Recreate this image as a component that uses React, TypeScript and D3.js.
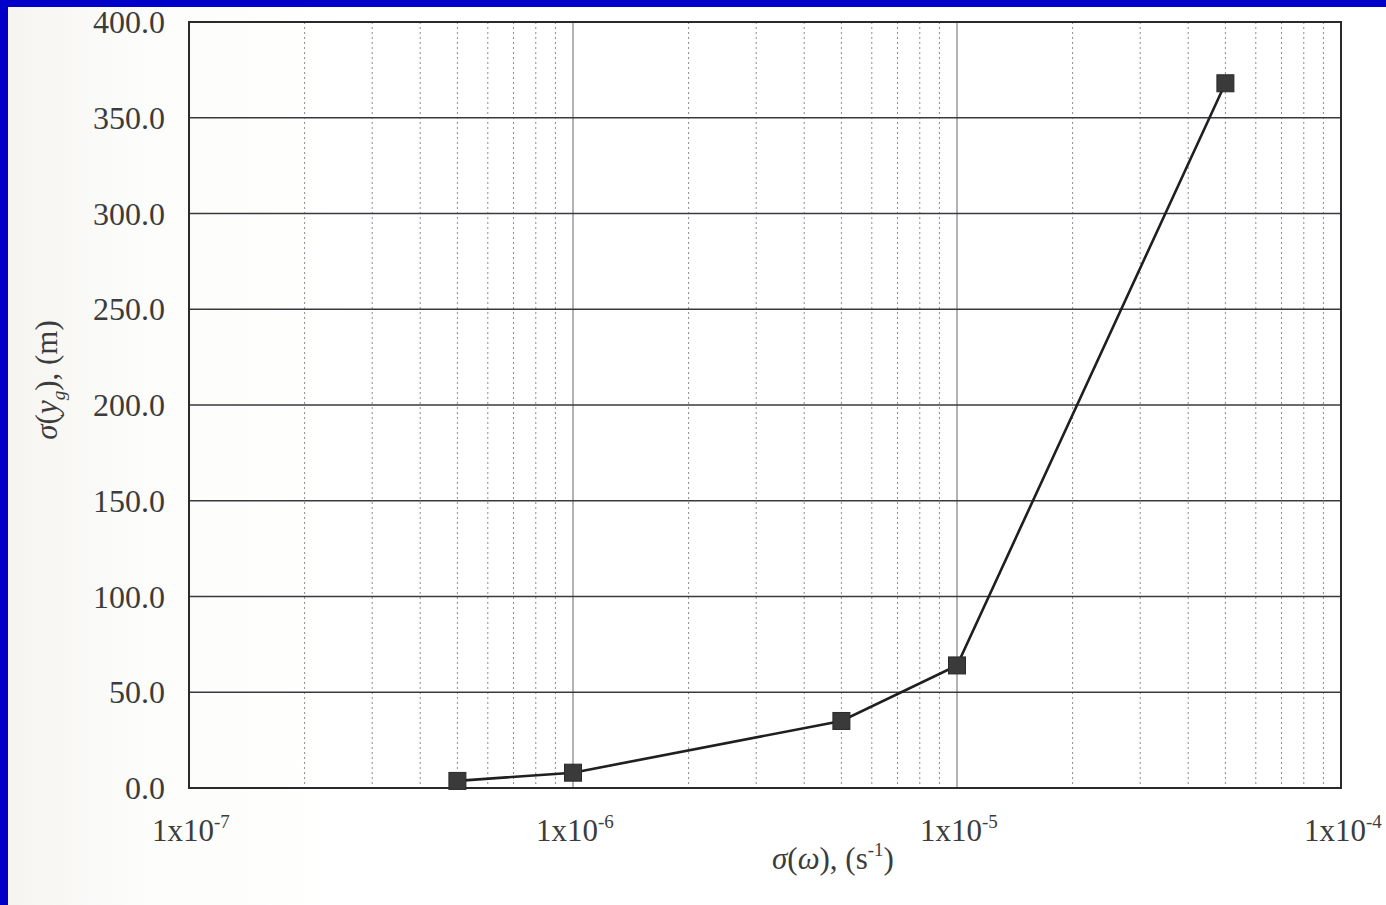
import React from "react";
import * as d3 from "d3";

// Angular-velocity uncertainty (s^-1) vs. resulting position uncertainty (m)
const sigmaOmega = [5e-7, 1e-6, 5e-6, 1e-5, 5e-5];
const sigmaY = [3.7, 8, 35, 64, 368];
const yTicks = [0, 50, 100, 150, 200, 250, 300, 350, 400];
const xDecades = [-7, -6, -5, -4];

const W = 1386;
const H = 905;
const FONT = "'Liberation Serif', 'Times New Roman', serif";

export default function App() {
  const x = d3.scaleLog().domain([1e-7, 1e-4]).range([189, 1341]);
  const y = d3.scaleLinear().domain([0, 400]).range([788, 22]);

  const minorX: number[] = [];
  for (let e = -7; e < -4; e++) {
    for (let m = 2; m <= 9; m++) minorX.push(m * Math.pow(10, e));
  }

  const pts = sigmaOmega.map((w, i) => [x(w), y(sigmaY[i])] as [number, number]);
  const line = d3.line<[number, number]>()(pts) || "";

  const [x0, x1] = x.range();
  const [y0, y1] = y.range();

  return (
    <svg
      width={W}
      height={H}
      viewBox={`0 0 ${W} ${H}`}
      style={{ position: "absolute", left: 0, top: 0, display: "block" }}
    >
      <defs>
        <linearGradient id="paper" x1="0" x2="1" y1="0" y2="0">
          <stop offset="0" stopColor="#f5f4f0" />
          <stop offset="0.1" stopColor="#fcfcfa" />
          <stop offset="0.25" stopColor="#ffffff" />
          <stop offset="1" stopColor="#ffffff" />
        </linearGradient>
      </defs>
      <rect x={0} y={0} width={W} height={H} fill="url(#paper)" />

      {/* minor decade grid */}
      {minorX.map((v, i) => (
        <line
          key={"mx" + i}
          x1={x(v)}
          x2={x(v)}
          y1={y1}
          y2={y0}
          stroke="#8c8c8c"
          strokeWidth={1}
          strokeDasharray="2,3"
        />
      ))}
      {/* major decade grid */}
      {xDecades.map((e) => (
        <line
          key={"Mx" + e}
          x1={x(Math.pow(10, e))}
          x2={x(Math.pow(10, e))}
          y1={y1}
          y2={y0}
          stroke="#666"
          strokeWidth={1}
        />
      ))}
      {/* horizontal grid */}
      {yTicks.map((t) => (
        <line
          key={"gy" + t}
          x1={x0}
          x2={x1}
          y1={y(t)}
          y2={y(t)}
          stroke="#3b3842"
          strokeWidth={1.5}
        />
      ))}

      {/* plot frame */}
      <rect
        x={x0}
        y={y1}
        width={x1 - x0}
        height={y0 - y1}
        fill="none"
        stroke="#2a2a2a"
        strokeWidth={2}
      />

      {/* series */}
      <path d={line} fill="none" stroke="#1f1f1f" strokeWidth={2.6} />
      {pts.map(([px, py], i) => (
        <rect
          key={"p" + i}
          x={px - 8.5}
          y={py - 8.5}
          width={17}
          height={17}
          fill="#3a3a3a"
          stroke="#2a2a2a"
          strokeWidth={1}
        />
      ))}

      {/* y tick labels */}
      {yTicks.map((t) => (
        <text
          key={"ty" + t}
          x={165}
          y={y(t) + 11}
          textAnchor="end"
          fontFamily={FONT}
          fontSize={32}
          fill="#3c3c3c"
        >
          {t.toFixed(1)}
        </text>
      ))}

      {/* x tick labels */}
      {xDecades.map((e) => (
        <text
          key={"tx" + e}
          x={x(Math.pow(10, e)) - 37}
          y={841}
          fontFamily={FONT}
          fontSize={31}
          fill="#3c3c3c"
        >
          1x10
          <tspan dy={-13} fontSize={19}>
            {String(e)}
          </tspan>
        </text>
      ))}

      {/* x axis title */}
      <text x={772} y={869} fontFamily={FONT} fontSize={31} fill="#3c3c3c">
        <tspan fontStyle="italic">σ</tspan>(<tspan fontStyle="italic">ω</tspan>), (s
        <tspan dy={-13} fontSize={19}>
          -1
        </tspan>
        <tspan dy={13}>)</tspan>
      </text>

      {/* y axis title */}
      <text
        transform="translate(57,380) rotate(-90)"
        textAnchor="middle"
        fontFamily={FONT}
        fontSize={31}
        fill="#3c3c3c"
      >
        <tspan fontStyle="italic">σ</tspan>(<tspan fontStyle="italic">y</tspan>
        <tspan dy={8} fontSize={19} fontStyle="italic">
          g
        </tspan>
        <tspan dy={-8}>), (m)</tspan>
      </text>

      {/* slide frame */}
      <rect x={0} y={0} width={W} height={7} fill="#0000c8" />
      <rect x={0} y={0} width={8} height={H} fill="#0000c8" />
    </svg>
  );
}
